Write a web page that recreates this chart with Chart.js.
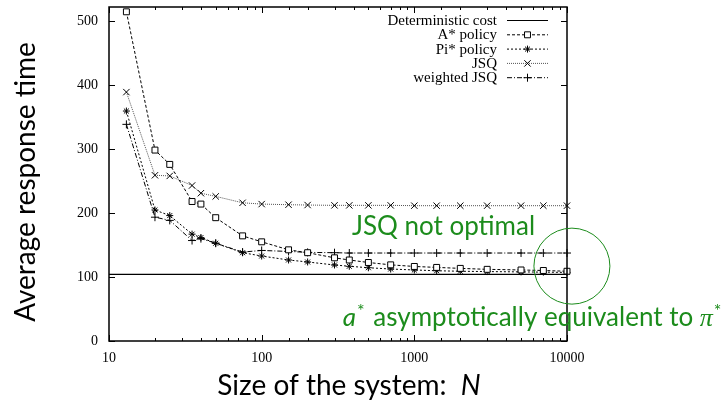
<!DOCTYPE html>
<html>
<head>
<meta charset="utf-8">
<script src="https://cdn.jsdelivr.net/npm/chart.js@4.4.1/dist/chart.umd.min.js"></script>
<style>
  html, body { margin: 0; padding: 0; background: #fff; }
  #wrap { width: 725px; height: 401px; position: relative; }
</style>
</head>
<body>
<div id="wrap"><canvas id="chart"></canvas></div>
<script>
// ── response time vs system size (gnuplot-style figure) ──────────────

const sizesN = [13, 20, 25, 35, 40, 50, 75, 100, 150, 200, 300, 375, 500, 700,
                1000, 1400, 2000, 3000, 5000, 7000, 10000];

const aStarPolicy = [514.5, 298.4, 276, 218, 214, 192.7, 164.3, 155, 142.5, 138,
                     130, 126.6, 122.7, 119, 116.5, 115, 113.5, 112, 111, 110.2, 109];
const piStarPolicy = [359.4, 204.8, 196, 167, 161.6, 152.8, 138, 132.8, 126.6, 123.5,
                      118.8, 116.8, 114.5, 112.5, 111, 109.8, 109, 108.5, 108, 107.6, 107.2];
const jsqValues = [389, 259, 258, 243, 231, 226, 216, 214, 213, 212.5,
                   212, 212, 212, 212, 211.5, 211.5, 211.5, 211.5, 211.5, 211.5, 211.5];
const weightedJsq = [338.6, 193.5, 188.5, 157, 160, 152.8, 139, 141.5, 140, 138.5,
                     138, 137.5, 137.5, 137.5, 137.5, 137.5, 137.5, 137.5, 137.5, 137.5, 137.5];
const deterministicCost = 104;

const xRange = [10, 10000];
const xLabelTicks = [10, 100, 1000, 10000];
const yRange = [0, 522];
const yStep = 100;

const seriesLabels = ['Deterministic cost', 'A* policy', 'Pi* policy', 'JSQ', 'weighted JSQ'];

// annotation anchors, in data units
const noteJsq = { n: 390, v: 165.6 };
const noteAsym = { n: 340, v: 23.4 };
const noteCircle = { n: 10770, v: 117 };

const GREEN = '#1c8c1c';
const SERIF = '"Liberation Serif", "Times New Roman", serif';
const SANS = 'Lato, "Open Sans", sans-serif';

const toPts = vals => vals.map((v, i) => ({ x: sizesN[i], y: v }));

function lineSet(label, vals, dash, style, radius, color) {
    return {
        label,
        data: toPts(vals),
        borderColor: color || '#000',
        borderWidth: 1,
        borderDash: dash,
        pointStyle: style,
        pointRadius: radius,
        pointBorderColor: '#000',
        pointBackgroundColor: '#fff',
        pointBorderWidth: 1,
        tension: 0,
        clip: false
    };
}

const datasets = [
    {
        label: seriesLabels[0],
        data: xRange.map(n => ({ x: n, y: deterministicCost })),
        borderColor: '#000',
        borderWidth: 1.2,
        pointRadius: 0,
        clip: false
    },
    lineSet(seriesLabels[1], aStarPolicy, [3, 2], 'rect', 4.2),
    lineSet(seriesLabels[2], piStarPolicy, [2, 2], 'star', 3.5),
    lineSet(seriesLabels[3], jsqValues, [1, 1], 'crossRot', 4.5, '#555'),
    lineSet(seriesLabels[4], weightedJsq, [5, 2, 1, 2], 'cross', 4)
];

const isPow10 = v => Math.abs(Math.log10(v) - Math.round(Math.log10(v))) < 1e-9;

// inward ticks on all four sides + frame
const framePlugin = {
    id: 'frame',
    afterDatasetsDraw(chart) {
        const { ctx, chartArea: a, scales: { x, y } } = chart;
        ctx.save();
        ctx.strokeStyle = '#000';
        ctx.lineWidth = 1;
        ctx.beginPath();
        x.ticks.forEach(t => {
            const px = Math.round(x.getPixelForValue(t.value)) + 0.5;
            const len = isPow10(t.value) ? 6 : 3;
            ctx.moveTo(px, a.bottom); ctx.lineTo(px, a.bottom - len);
            ctx.moveTo(px, a.top); ctx.lineTo(px, a.top + len);
        });
        y.ticks.forEach(t => {
            const py = Math.round(y.getPixelForValue(t.value)) + 0.5;
            ctx.moveTo(a.left, py); ctx.lineTo(a.left + 6, py);
            ctx.moveTo(a.right, py); ctx.lineTo(a.right - 6, py);
        });
        ctx.stroke();
        ctx.lineWidth = 1.5;
        ctx.strokeRect(a.left, a.top, a.right - a.left, a.bottom - a.top);
        ctx.restore();
    }
};

// gnuplot-like key: text right-aligned, sample to the right
const keyPlugin = {
    id: 'gpKey',
    afterDraw(chart) {
        const ctx = chart.ctx;
        const textRight = 497, sampleL = 507, sampleR = 548;
        ctx.save();
        ctx.font = '15px ' + SERIF;
        ctx.textAlign = 'right';
        ctx.textBaseline = 'middle';
        chart.data.datasets.forEach((ds, i) => {
            const yy = 20 + i * 14.3;
            ctx.fillStyle = '#000';
            ctx.fillText(ds.label, textRight, yy + 1);
            ctx.strokeStyle = ds.borderColor;
            ctx.lineWidth = ds.borderWidth;
            ctx.setLineDash(ds.borderDash || []);
            ctx.beginPath();
            ctx.moveTo(sampleL, yy + 0.5);
            ctx.lineTo(sampleR, yy + 0.5);
            ctx.stroke();
            ctx.setLineDash([]);
            if (ds.pointRadius) {
                ctx.strokeStyle = '#000';
                ctx.fillStyle = '#fff';
                Chart.helpers.drawPoint(ctx, {
                    pointStyle: ds.pointStyle, radius: ds.pointRadius,
                    rotation: 0, borderWidth: 1
                }, (sampleL + sampleR) / 2, yy + 0.5);
            }
        });
        ctx.restore();
    }
};

// axis titles and green remarks
const textPlugin = {
    id: 'remarks',
    afterDraw(chart) {
        const { ctx, scales: { x, y } } = chart;
        ctx.save();
        ctx.fillStyle = '#000';
        ctx.textBaseline = 'alphabetic';

        // y title
        ctx.save();
        ctx.translate(35, 182);
        ctx.rotate(-Math.PI / 2);
        ctx.font = '28px ' + SANS;
        ctx.textAlign = 'center';
        ctx.fillText('Average response time', 0, 0);
        ctx.restore();

        // x title with italic N
        ctx.font = '28px ' + SANS;
        const t1 = 'Size of the system:  ';
        const w1 = ctx.measureText(t1).width;
        ctx.font = 'italic 28px ' + SANS;
        const w2 = ctx.measureText('N').width;
        const sx = 349 - (w1 + w2) / 2;
        ctx.textAlign = 'left';
        ctx.font = '28px ' + SANS;
        ctx.fillText(t1, sx, 395);
        ctx.font = 'italic 28px ' + SANS;
        ctx.fillText('N', sx + w1, 395);

        // remarks
        ctx.fillStyle = GREEN;
        ctx.font = '26px ' + SANS;
        ctx.fillText('JSQ not optimal', x.getPixelForValue(noteJsq.n), y.getPixelForValue(noteJsq.v));

        let px = x.getPixelForValue(noteAsym.n);
        const py = y.getPixelForValue(noteAsym.v);
        ctx.font = 'italic 26px ' + SANS;
        ctx.fillText('a', px, py); px += ctx.measureText('a').width + 1;
        ctx.font = '18px ' + SANS;
        ctx.fillText('*', px, py - 9); px += ctx.measureText('* ').width + 4;
        ctx.font = '26px ' + SANS;
        const mid = 'asymptotically equivalent to ';
        ctx.fillText(mid, px, py); px += ctx.measureText(mid).width;
        ctx.font = 'italic 26px ' + SERIF;
        ctx.fillText('\u03C0', px, py); px += ctx.measureText('\u03C0').width + 1;
        ctx.font = '18px ' + SANS;
        ctx.fillText('*', px, py - 9);

        // circle around the N = 10000 end
        ctx.strokeStyle = GREEN;
        ctx.lineWidth = 1;
        ctx.beginPath();
        ctx.arc(x.getPixelForValue(noteCircle.n), y.getPixelForValue(noteCircle.v), 38, 0, Math.PI * 2);
        ctx.stroke();
        ctx.restore();
    }
};

new Chart(document.getElementById('chart').getContext('2d'), {
    type: 'line',
    data: { datasets },
    options: {
        animation: false,
        responsive: true,
        maintainAspectRatio: false,
        layout: { padding: { left: 0, right: 158, top: 7, bottom: 0 } },
        plugins: { legend: { display: false }, tooltip: { enabled: false } },
        scales: {
            x: {
                type: 'logarithmic',
                min: xRange[0],
                max: xRange[1],
                grid: { display: false, drawTicks: false },
                border: { display: false },
                afterFit: s => { s.height = 60; s.paddingLeft = 0; s.paddingRight = 0; },
                ticks: {
                    autoSkip: false,
                    maxRotation: 0,
                    padding: 9,
                    color: '#000',
                    font: { family: SERIF, size: 14 },
                    callback: v => (xLabelTicks.includes(v) ? String(v) : '')
                }
            },
            y: {
                min: yRange[0],
                max: yRange[1],
                grid: { display: false, drawTicks: false },
                border: { display: false },
                afterFit: s => { s.width = 109; s.paddingTop = 0; s.paddingBottom = 0; },
                ticks: {
                    stepSize: yStep,
                    includeBounds: false,
                    padding: 11,
                    color: '#000',
                    font: { family: SERIF, size: 14 }
                }
            }
        }
    },
    plugins: [framePlugin, keyPlugin, textPlugin]
});
</script>
</body>
</html>
